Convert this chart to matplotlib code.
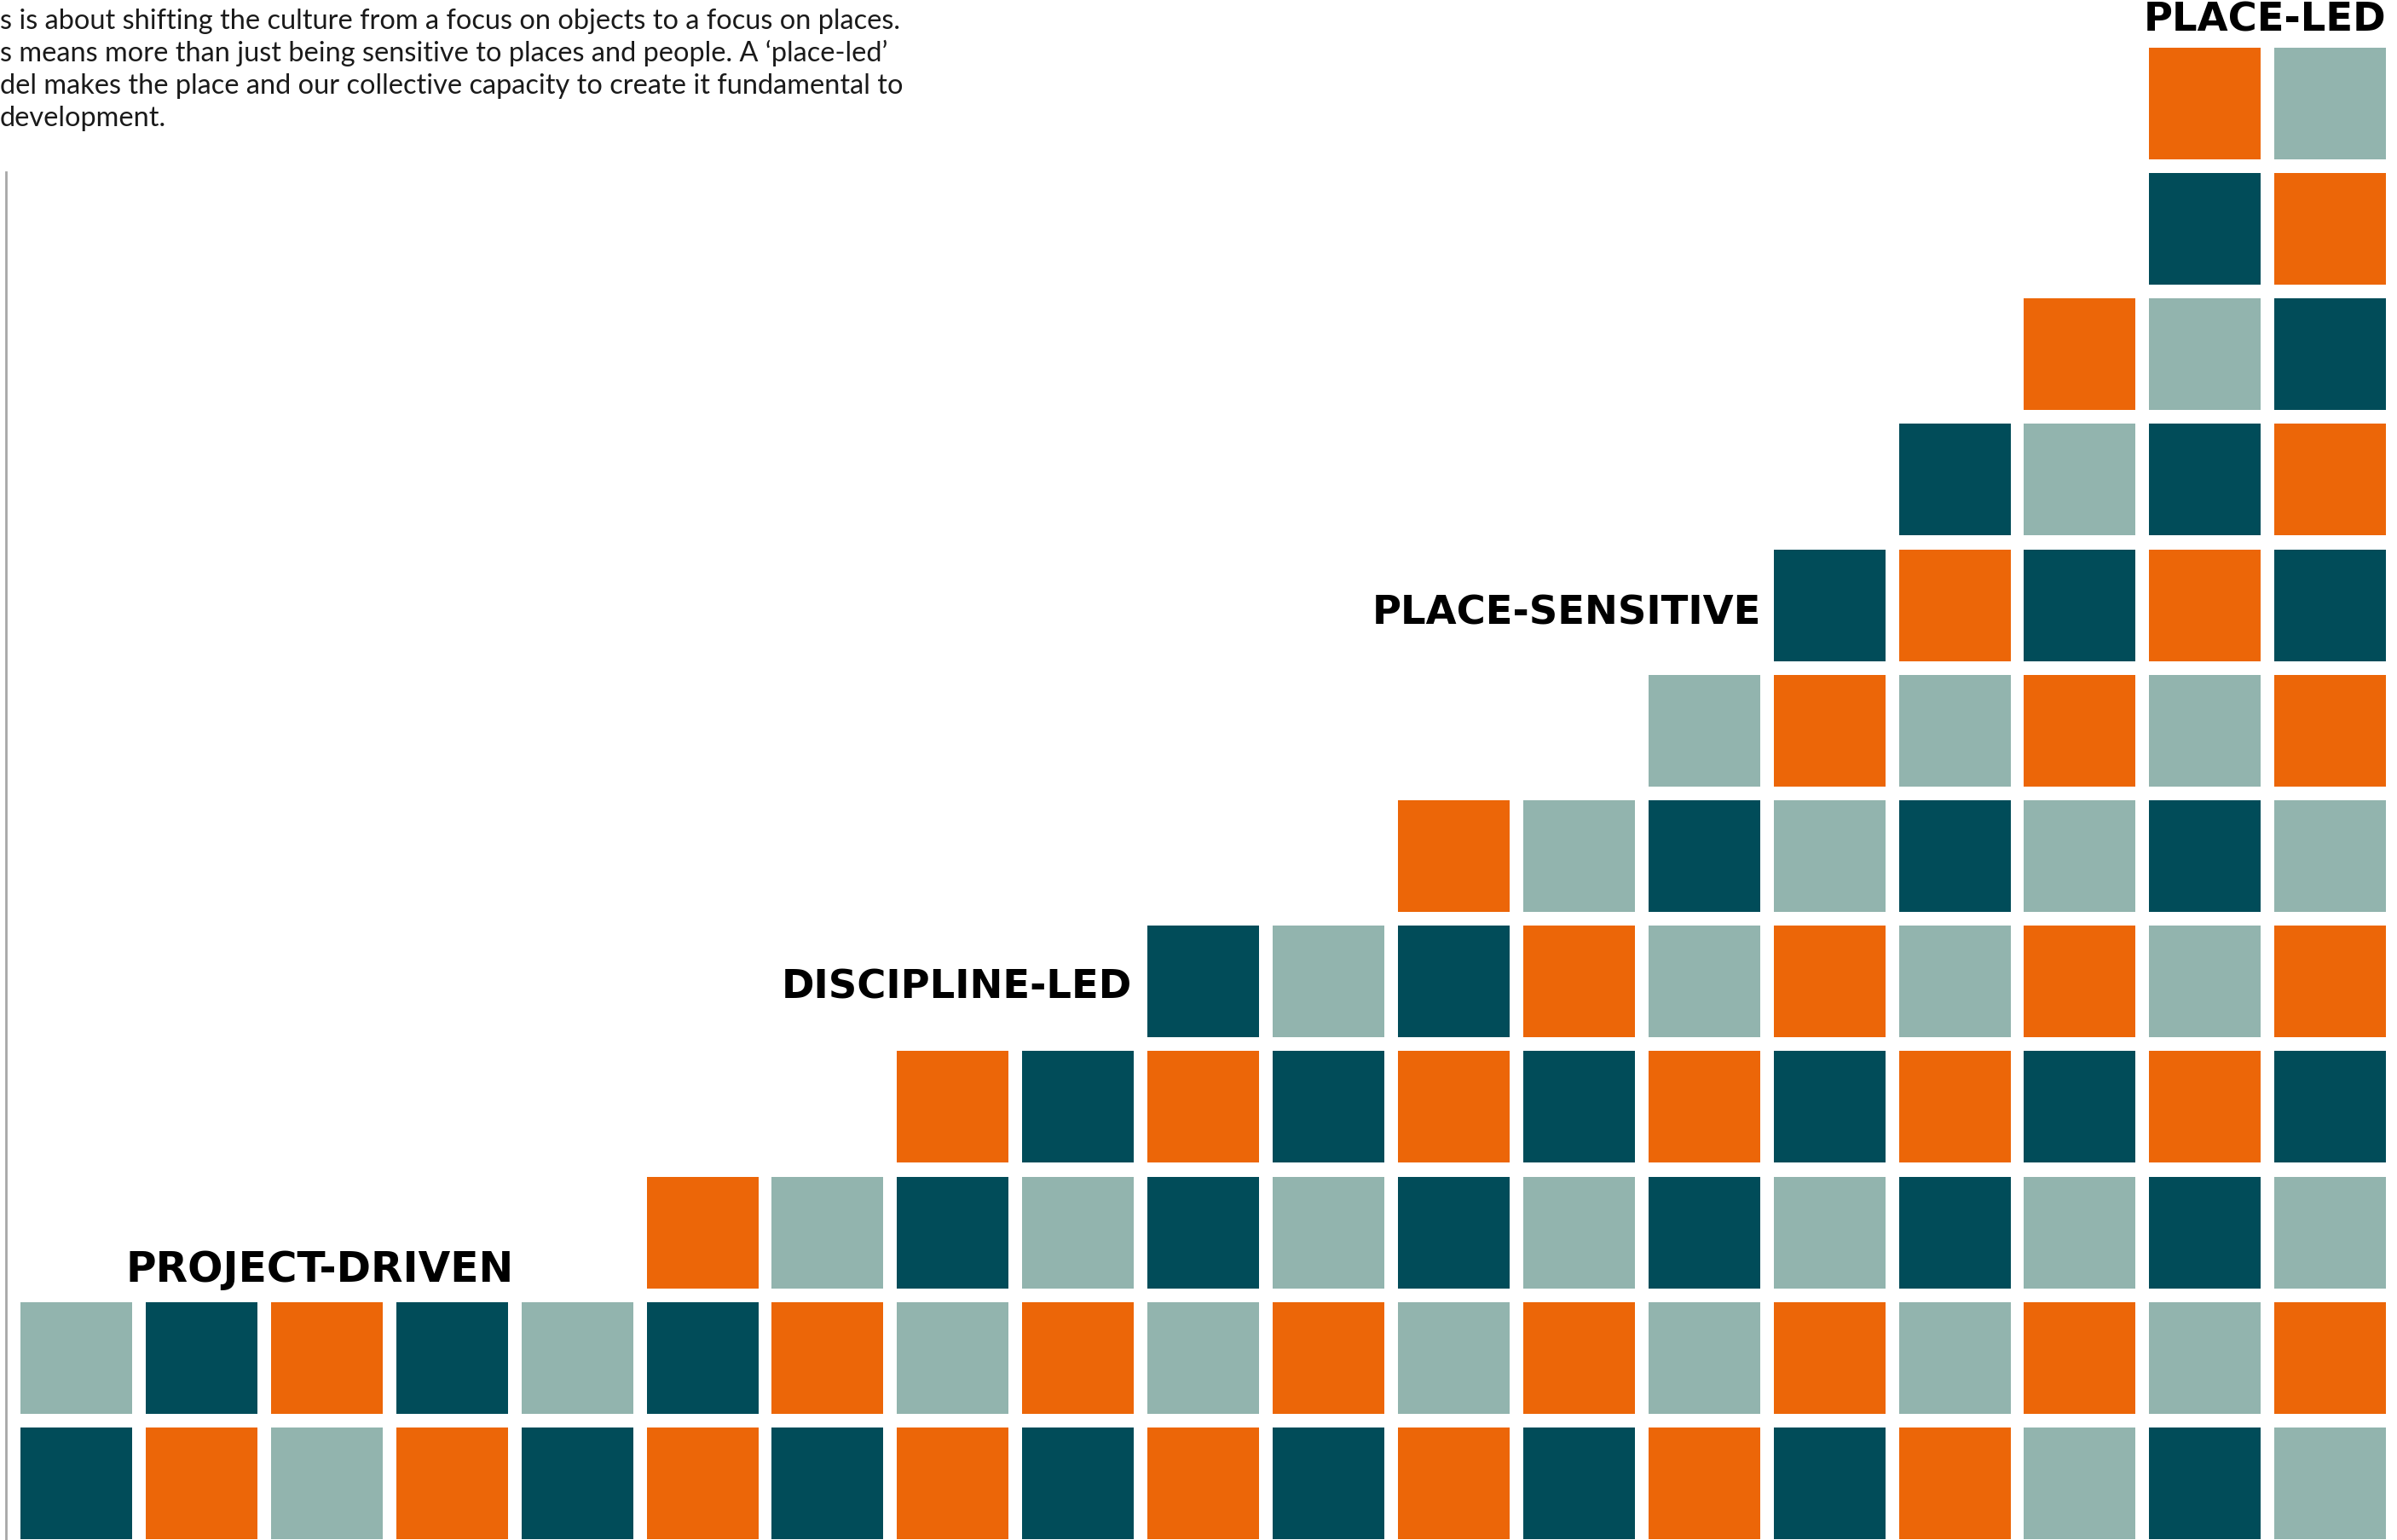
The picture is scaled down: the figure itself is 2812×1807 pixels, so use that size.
import matplotlib.pyplot as plt

# colour codes: D = dark teal, O = orange, L = light sage
palette = {'D': '#014c59', 'O': '#ec6608', 'L': '#92b4ae'}

# one string per column, read bottom -> top
stacks = ['DL', 'OD', 'LO', 'OD', 'DL',
          'ODO', 'DOL', 'OLDO', 'DOLD', 'OLDOD', 'DOLDL',
          'OLDODO', 'DOLDOL', 'OLDOLDL', 'DOLDOLOD', 'OLDOLDLOD',
          'LOLDOLODLO', 'DLDOLDLODLDO', 'LOLDOLODODOL']

stage_labels = ['PROJECT-DRIVEN', 'DISCIPLINE-LED', 'PLACE-SENSITIVE', 'PLACE-LED']

intro_lines = ['s is about shifting the culture from a focus on objects to a focus on places.',
               's means more than just being sensitive to places and people. A \u2018place-led\u2019',
               'del makes the place and our collective capacity to create it fundamental to',
               'development.']

W, H = 2812, 1807
fig = plt.figure(figsize=(W / 100, H / 100), dpi=100)
ax = fig.add_axes([0, 0, 1, 1])
pitch_x, pitch_y = 146.9, 147.2
ax.set_xlim(-24 / pitch_x, (W - 24) / pitch_x)
ax.set_ylim(-1 / pitch_y, (H - 1) / pitch_y)
ax.axis('off')

xs, ys, cols = [], [], []
for c, stack in enumerate(stacks):
    for r, code in enumerate(stack):
        xs.append(c)
        ys.append(r)
        cols.append(palette[code])
ax.bar(xs, 0.89, width=0.892, bottom=ys, align='edge', color=cols, linewidth=0)

# thin grey rule on the left
ax.axvline(-16.5 / pitch_x, ymin=0, ymax=(H - 202) / H, color='#a8a8a8', lw=2)

lab = dict(fontweight='bold', family='DejaVu Sans', color='black', va='baseline')
ax.text(2.39, 2.05, stage_labels[0], ha='center', fontsize=35, **lab)
ax.text(9 - 0.12, 4.31, stage_labels[1], ha='right', fontsize=33.5, **lab)
ax.text(14 - 0.10, 7.29, stage_labels[2], ha='right', fontsize=33.5, **lab)
ax.text(18.892, 12.02, stage_labels[3], ha='right', fontsize=33.5, **lab)

for i, line in enumerate(intro_lines):
    fig.text(0.0, 1 - (34 + 38 * i) / H, line, ha='left', va='baseline',
             family='Lato', fontsize=23.4, color='#1a1a1a')

fig.savefig('out.png', dpi=100)
